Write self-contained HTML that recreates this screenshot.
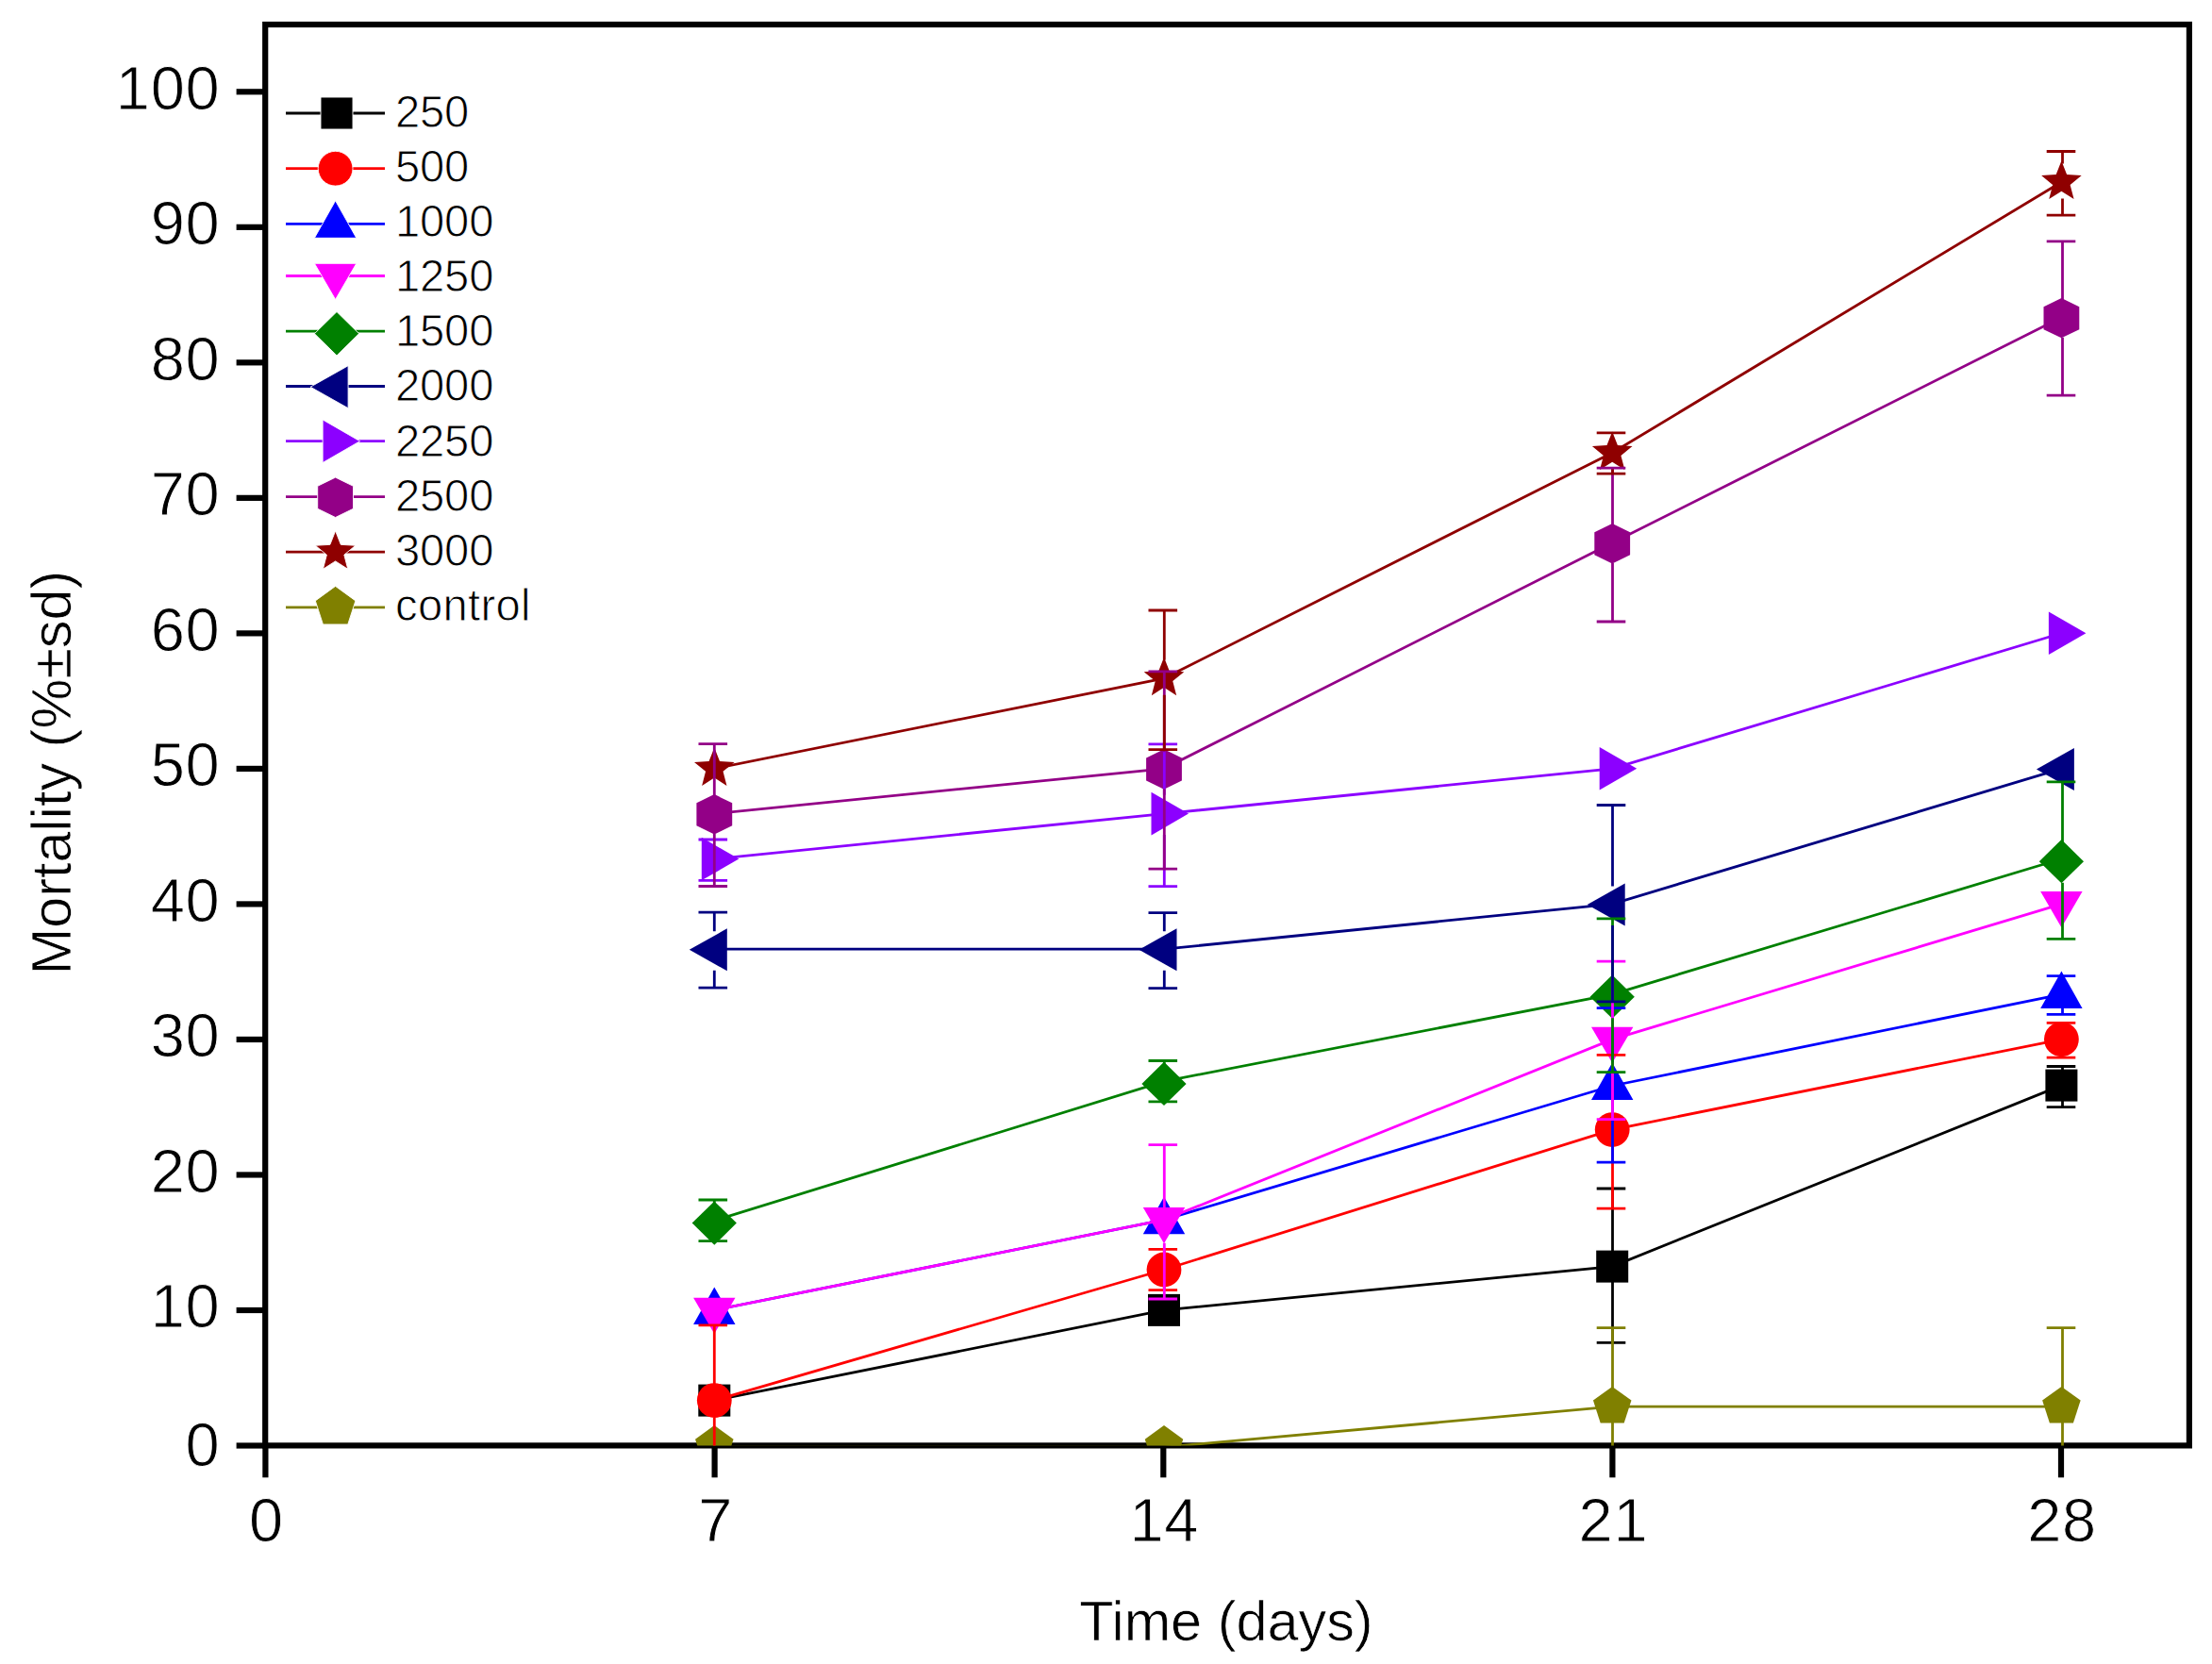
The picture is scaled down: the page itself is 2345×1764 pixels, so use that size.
<!DOCTYPE html>
<html lang="en"><head><meta charset="utf-8"><title>Mortality vs time</title>
<style>html,body{margin:0;padding:0;background:#fff}body{width:2345px;height:1764px;overflow:hidden}svg{display:block}text{font-family:"Liberation Sans",Arial,sans-serif;fill:#000}</style>
</head><body>
<svg width="2345" height="1764" viewBox="0 0 2345 1764">
<rect width="2345" height="1764" fill="#fff"/>
<defs><clipPath id="plot"><rect x="281.2" y="26" width="2039.7" height="1506.4"/></clipPath></defs>
<g stroke="#000" stroke-width="6.2" fill="none" stroke-linecap="butt">
<rect x="281.2" y="26" width="2039.7" height="1506.4"/>
<line x1="250.6" y1="1532.5" x2="281.2" y2="1532.5"/>
<line x1="250.6" y1="1388.98" x2="281.2" y2="1388.98"/>
<line x1="250.6" y1="1245.46" x2="281.2" y2="1245.46"/>
<line x1="250.6" y1="1101.94" x2="281.2" y2="1101.94"/>
<line x1="250.6" y1="958.42" x2="281.2" y2="958.42"/>
<line x1="250.6" y1="814.9" x2="281.2" y2="814.9"/>
<line x1="250.6" y1="671.38" x2="281.2" y2="671.38"/>
<line x1="250.6" y1="527.86" x2="281.2" y2="527.86"/>
<line x1="250.6" y1="384.34" x2="281.2" y2="384.34"/>
<line x1="250.6" y1="240.82" x2="281.2" y2="240.82"/>
<line x1="250.6" y1="97.3" x2="281.2" y2="97.3"/>
<line x1="281.4" y1="1532.4" x2="281.4" y2="1566.3"/>
<line x1="757.6" y1="1532.4" x2="757.6" y2="1566.3"/>
<line x1="1233.3" y1="1532.4" x2="1233.3" y2="1566.3"/>
<line x1="1709.4" y1="1532.4" x2="1709.4" y2="1566.3"/>
<line x1="2185" y1="1532.4" x2="2185" y2="1566.3"/>
</g>
<g font-size="65px" letter-spacing="0.7" stroke="#fff" stroke-width="0.9">
<text x="233.4" y="1553.6" text-anchor="end">0</text>
<text x="233.4" y="1407.48" text-anchor="end">10</text>
<text x="233.4" y="1263.96" text-anchor="end">20</text>
<text x="233.4" y="1120.44" text-anchor="end">30</text>
<text x="233.4" y="976.92" text-anchor="end">40</text>
<text x="233.4" y="833.4" text-anchor="end">50</text>
<text x="233.4" y="689.88" text-anchor="end">60</text>
<text x="233.4" y="546.36" text-anchor="end">70</text>
<text x="233.4" y="402.84" text-anchor="end">80</text>
<text x="233.4" y="259.32" text-anchor="end">90</text>
<text x="233.4" y="115.8" text-anchor="end">100</text>
<text x="282.4" y="1634" text-anchor="middle">0</text>
<text x="758.6" y="1634" text-anchor="middle">7</text>
<text x="1234.3" y="1634" text-anchor="middle">14</text>
<text x="1710.4" y="1634" text-anchor="middle">21</text>
<text x="2186" y="1634" text-anchor="middle">28</text>
</g>
<text x="1300" y="1739" font-size="59.4px" stroke="#fff" stroke-width="0.7" text-anchor="middle">Time (days)</text>
<text transform="translate(74.5 819) rotate(-90)" font-size="59.4px" stroke="#fff" stroke-width="0.7" text-anchor="middle">Mortality (%±sd)</text>
<g clip-path="url(#plot)">
<polyline points="757.3,1484.61 1234,1388.88 1709.2,1342.6 2185.4,1150.6" fill="none" stroke="#000000" stroke-width="2.8"/>
<rect x="740.3" y="1467.61" width="34" height="34" fill="#000000"/>
<rect x="1217" y="1371.88" width="34" height="34" fill="#000000"/>
<rect x="1692.2" y="1325.6" width="34" height="34" fill="#000000"/>
<rect x="2168.4" y="1133.6" width="34" height="34" fill="#000000"/>
<polyline points="757.3,1484.61 1234,1346 1709.2,1197.57 2185.4,1101.84" fill="none" stroke="#ff0000" stroke-width="2.8"/>
<circle cx="757.3" cy="1484.61" r="18.4" fill="#ff0000"/>
<circle cx="1234" cy="1346" r="18.4" fill="#ff0000"/>
<circle cx="1709.2" cy="1197.57" r="18.4" fill="#ff0000"/>
<circle cx="2185.4" cy="1101.84" r="18.4" fill="#ff0000"/>
<polyline points="757.3,1388.88 1234,1293.15 1709.2,1151 2185.4,1054.05" fill="none" stroke="#0000ff" stroke-width="2.8"/>
<polygon points="757.3,1364.38 779.5,1403.88 735.1,1403.88" fill="#0000ff"/>
<polygon points="1234,1268.65 1256.2,1308.15 1211.8,1308.15" fill="#0000ff"/>
<polygon points="1709.2,1126.5 1731.4,1166 1687,1166" fill="#0000ff"/>
<polygon points="2185.4,1029.55 2207.6,1069.05 2163.2,1069.05" fill="#0000ff"/>
<polyline points="757.3,1388.88 1234,1293.15 1709.2,1101.84 2185.4,958.32" fill="none" stroke="#ff00ff" stroke-width="2.8"/>
<polygon points="735.1,1375.68 779.5,1375.68 757.3,1413.88" fill="#ff00ff"/>
<polygon points="1211.8,1279.95 1256.2,1279.95 1234,1318.15" fill="#ff00ff"/>
<polygon points="1687,1088.64 1731.4,1088.64 1709.2,1126.84" fill="#ff00ff"/>
<polygon points="2163.2,945.12 2207.6,945.12 2185.4,983.32" fill="#ff00ff"/>
<polyline points="757.3,1294 1234,1146.3 1709.2,1054.05 2185.4,910.53" fill="none" stroke="#008000" stroke-width="2.8"/>
<polygon points="757.3,1273.4 780.9,1296.6 757.3,1319.8 733.7,1296.6" fill="#008000"/>
<polygon points="1234,1125.7 1257.6,1148.9 1234,1172.1 1210.4,1148.9" fill="#008000"/>
<polygon points="1709.2,1033.45 1732.8,1056.65 1709.2,1079.85 1685.6,1056.65" fill="#008000"/>
<polygon points="2185.4,889.93 2209,913.13 2185.4,936.33 2161.8,913.13" fill="#008000"/>
<polyline points="757.3,1006.11 1234,1006.11 1709.2,958.32 2185.4,814.8" fill="none" stroke="#000080" stroke-width="2.8"/>
<polygon points="730.8,1006.81 770.8,984.31 770.8,1029.31" fill="#000080"/>
<polygon points="1207.5,1006.81 1247.5,984.31 1247.5,1029.31" fill="#000080"/>
<polygon points="1682.7,959.02 1722.7,936.52 1722.7,981.52" fill="#000080"/>
<polygon points="2158.9,815.5 2198.9,793 2198.9,838" fill="#000080"/>
<polyline points="757.3,910.53 1234,862.59 1709.2,814.8 2185.4,671.28" fill="none" stroke="#8c00ff" stroke-width="2.8"/>
<polygon points="783.3,910.53 743.8,887.73 743.8,933.33" fill="#8c00ff"/>
<polygon points="1260,862.59 1220.5,839.79 1220.5,885.39" fill="#8c00ff"/>
<polygon points="1735.2,814.8 1695.7,792 1695.7,837.6" fill="#8c00ff"/>
<polygon points="2211.4,671.28 2171.9,648.48 2171.9,694.08" fill="#8c00ff"/>
<polyline points="757.3,862.59 1234,814.8 1709.2,575.55 2185.4,336.45" fill="none" stroke="#930087" stroke-width="2.8"/>
<polygon points="757.3,842.09 776.2,851.29 776.2,875.29 757.3,884.49 738.4,875.29 738.4,851.29" fill="#930087"/>
<polygon points="1234,794.3 1252.9,803.5 1252.9,827.5 1234,836.7 1215.1,827.5 1215.1,803.5" fill="#930087"/>
<polygon points="1709.2,555.05 1728.1,564.25 1728.1,588.25 1709.2,597.45 1690.3,588.25 1690.3,564.25" fill="#930087"/>
<polygon points="2185.4,315.95 2204.3,325.15 2204.3,349.15 2185.4,358.35 2166.5,349.15 2166.5,325.15" fill="#930087"/>
<polyline points="757.3,814.8 1234,719.07 1709.2,479.97 2185.4,192.93" fill="none" stroke="#8f0000" stroke-width="2.8"/>
<polygon points="757.3,792.4 763,806.95 778.6,807.88 766.53,817.8 770.47,832.92 757.3,824.5 744.13,832.92 748.07,817.8 736,807.88 751.6,806.95" fill="#8f0000"/>
<polygon points="1234,696.67 1239.7,711.22 1255.3,712.15 1243.23,722.07 1247.17,737.19 1234,728.77 1220.83,737.19 1224.77,722.07 1212.7,712.15 1228.3,711.22" fill="#8f0000"/>
<polygon points="1709.2,457.57 1714.9,472.12 1730.5,473.05 1718.43,482.97 1722.37,498.09 1709.2,489.67 1696.03,498.09 1699.97,482.97 1687.9,473.05 1703.5,472.12" fill="#8f0000"/>
<polygon points="2185.4,170.53 2191.1,185.08 2206.7,186.01 2194.63,195.93 2198.57,211.05 2185.4,202.63 2172.23,211.05 2176.17,195.93 2164.1,186.01 2179.7,185.08" fill="#8f0000"/>
<polyline points="757.3,1534.1 1234,1534.1 1709.2,1491.2 2185.4,1491.2" fill="none" stroke="#808000" stroke-width="2.8"/>
<polygon points="757.3,1511.1 777.56,1525.82 769.82,1549.63 744.78,1549.63 737.04,1525.82" fill="#808000"/>
<polygon points="1234,1511.1 1254.26,1525.82 1246.52,1549.63 1221.48,1549.63 1213.74,1525.82" fill="#808000"/>
<polygon points="1709.2,1469.9 1729.46,1484.62 1721.72,1508.43 1696.68,1508.43 1688.94,1484.62" fill="#808000"/>
<polygon points="2185.4,1469.9 2205.66,1484.62 2197.92,1508.43 2172.88,1508.43 2165.14,1484.62" fill="#808000"/>
<path d="M1709.5 1260V1328.6M1709.5 1359.1V1423.3M1692.7 1260H1723.3M1692.7 1423.3H1723.3M2186.5 1130.5V1136.6M2186.5 1167.1V1173.6M2169.7 1130.5H2200.3M2169.7 1173.6H2200.3" fill="none" stroke="#000000" stroke-width="2.8"/>
<path d="M757.3 1404.9V1469.21M757.3 1502.51V1566M740.5 1404.9H771.1M740.5 1566H771.1M1234.3 1324.4V1330.6M1234.3 1363.9V1367.7M1217.5 1324.4H1248.1M1217.5 1367.7H1248.1M1709.5 1118.3V1182.17M1709.5 1215.47V1281.2M1692.7 1118.3H1723.3M1692.7 1281.2H1723.3M2186.5 1119.74V1121.2M2169.7 1084.4H2200.3M2169.7 1121.2H2200.3" fill="none" stroke="#ff0000" stroke-width="2.8"/>
<path d="M1709.5 1068.6V1129.5M1709.5 1165.5V1232.1M1692.7 1068.6H1723.3M1692.7 1232.1H1723.3M2186.5 1068.55V1075.3M2169.7 1034.7H2200.3M2169.7 1075.3H2200.3" fill="none" stroke="#0000ff" stroke-width="2.8"/>
<path d="M1234.3 1213.6V1282.95M1234.3 1317.65V1377M1217.5 1213.6H1248.1M1217.5 1377H1248.1M1709.5 1019.2V1091.64M1709.5 1126.34V1186.7M1692.7 1019.2H1723.3M1692.7 1186.7H1723.3" fill="none" stroke="#ff00ff" stroke-width="2.8"/>
<path d="M757.3 1272V1276.4M740.5 1272H771.1M740.5 1315.7H771.1M1234.3 1124.5V1128.7M1217.5 1124.5H1248.1M1217.5 1167.8H1248.1M1709.5 973.8V1036.45M1709.5 1079.35V1136.7M1692.7 973.8H1723.3M1692.7 1136.7H1723.3M2186.5 828.8V892.93M2186.5 935.83V995.3M2169.7 828.8H2200.3M2169.7 995.3H2200.3" fill="none" stroke="#008000" stroke-width="2.8"/>
<path d="M757.3 967.2V987.31M757.3 1028.81V1047.2M740.5 967.2H771.1M740.5 1047.2H771.1M1234.3 967.6V987.31M1234.3 1028.81V1047.7M1217.5 967.6H1248.1M1217.5 1047.7H1248.1M1709.5 853.5V939.52M1709.5 981.02V1061.8M1692.7 853.5H1723.3M1692.7 1061.8H1723.3" fill="none" stroke="#000080" stroke-width="2.8"/>
<path d="M757.3 932.83V933.4M740.5 890H771.1M740.5 933.4H771.1M1234.3 788.9V842.79M1234.3 884.89V939.6M1217.5 788.9H1248.1M1217.5 939.6H1248.1" fill="none" stroke="#8c00ff" stroke-width="2.8"/>
<path d="M757.3 788.7V845.09M757.3 883.99V939.5M740.5 788.7H771.1M740.5 939.5H771.1M1234.3 711.9V797.3M1234.3 836.2V921.2M1217.5 711.9H1248.1M1217.5 921.2H1248.1M1709.5 496.2V558.05M1709.5 596.95V659M1692.7 496.2H1723.3M1692.7 659H1723.3M2186.5 255.9V318.95M2186.5 357.85V419.2M2169.7 255.9H2200.3M2169.7 419.2H2200.3" fill="none" stroke="#930087" stroke-width="2.8"/>
<path d="M1234.3 647V699.67M1234.3 736.69V794.7M1217.5 647H1248.1M1217.5 794.7H1248.1M1709.5 497.59V502.2M1692.7 458.9H1723.3M1692.7 502.2H1723.3M2186.5 160.5V173.53M2186.5 210.55V228.2M2169.7 160.5H2200.3M2169.7 228.2H2200.3" fill="none" stroke="#8f0000" stroke-width="2.8"/>
<path d="M1709.5 1407.7V1472.9M1709.5 1507.93V1576M1692.7 1407.7H1723.3M1692.7 1576H1723.3M2186.5 1407.6V1472.9M2186.5 1507.93V1576M2169.7 1407.6H2200.3M2169.7 1576H2200.3" fill="none" stroke="#808000" stroke-width="2.8"/>
</g>
<g font-size="47.2px" letter-spacing="-0.2" stroke="#fff" stroke-width="0.9">
<line x1="303" y1="120" x2="408" y2="120" stroke="#000000" stroke-width="2.8"/>
<rect x="340" y="103" width="34" height="34" fill="#000000"/>
<text x="419" y="134.5">250</text>
<line x1="303" y1="178.7" x2="408" y2="178.7" stroke="#ff0000" stroke-width="2.8"/>
<circle cx="355.6" cy="178.7" r="18.4" fill="#ff0000"/>
<text x="419" y="192.67">500</text>
<line x1="303" y1="237.3" x2="408" y2="237.3" stroke="#0000ff" stroke-width="2.8"/>
<polygon points="355.6,212.8 377.8,252.3 333.4,252.3" fill="#0000ff"/>
<text x="419" y="250.84">1000</text>
<line x1="303" y1="292.5" x2="408" y2="292.5" stroke="#ff00ff" stroke-width="2.8"/>
<polygon points="333.4,279.3 377.8,279.3 355.6,317.5" fill="#ff00ff"/>
<text x="419" y="309.01">1250</text>
<line x1="303" y1="351.1" x2="408" y2="351.1" stroke="#008000" stroke-width="2.8"/>
<polygon points="357,330.5 380.6,353.7 357,376.9 333.4,353.7" fill="#008000"/>
<text x="419" y="367.18">1500</text>
<line x1="303" y1="409.5" x2="408" y2="409.5" stroke="#000080" stroke-width="2.8"/>
<polygon points="329.1,410.2 369.1,387.7 369.1,432.7" fill="#000080"/>
<text x="419" y="425.35">2000</text>
<line x1="303" y1="467.7" x2="408" y2="467.7" stroke="#8c00ff" stroke-width="2.8"/>
<polygon points="381.6,467.7 342.1,444.9 342.1,490.5" fill="#8c00ff"/>
<text x="419" y="483.52">2250</text>
<line x1="303" y1="526.6" x2="408" y2="526.6" stroke="#930087" stroke-width="2.8"/>
<polygon points="355.6,506.1 374.5,515.3 374.5,539.3 355.6,548.5 336.7,539.3 336.7,515.3" fill="#930087"/>
<text x="419" y="541.69">2500</text>
<line x1="303" y1="585.2" x2="408" y2="585.2" stroke="#8f0000" stroke-width="2.8"/>
<polygon points="355.6,562.8 361.3,577.35 376.9,578.28 364.83,588.2 368.77,603.32 355.6,594.9 342.43,603.32 346.37,588.2 334.3,578.28 349.9,577.35" fill="#8f0000"/>
<text x="419" y="599.86">3000</text>
<line x1="303" y1="643.8" x2="408" y2="643.8" stroke="#808000" stroke-width="2.8"/>
<polygon points="355.6,621.4 376.9,636.88 368.77,661.92 342.43,661.92 334.3,636.88" fill="#808000"/>
<text x="419" y="658.03" letter-spacing="0.3">control</text>
</g>
</svg>
</body></html>
